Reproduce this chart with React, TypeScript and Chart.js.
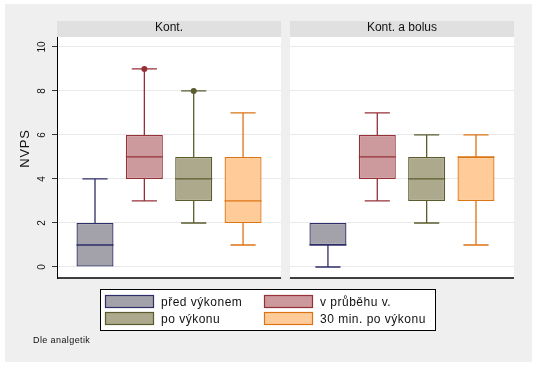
import React, { useEffect, useRef } from "react";
import { Chart, registerables } from "chart.js";

Chart.register(...registerables);

// ---------- data ----------
const PANELS = ["Kont.", "Kont. a bolus"];
const SERIES = ["před výkonem", "v průběhu v.", "po výkonu", "30 min. po výkonu"];

// Kont. : lower whisker, Q1, median, Q3, upper whisker, outside values
const KONT_LO = [0, 3, 2, 1];
const KONT_Q1 = [0, 4, 3, 2];
const KONT_MED = [1, 5, 4, 3];
const KONT_Q3 = [2, 6, 5, 5];
const KONT_HI = [4, 9, 8, 7];
const KONT_OUT = [[], [9], [8], []];

// Kont. a bolus
const BOLUS_LO = [0, 3, 2, 1];
const BOLUS_Q1 = [1, 4, 3, 3];
const BOLUS_MED = [1, 5, 4, 5];
const BOLUS_Q3 = [2, 6, 5, 5];
const BOLUS_HI = [2, 7, 6, 6];
const BOLUS_OUT = [[], [], [], []];

const Y_TICKS = [0, 2, 4, 6, 8, 10];
const Y_TITLE = "NVPS";
const NOTE = "Dle analgetik";

// ---------- styles ----------
const FILLS = ["#a3a2aa", "#cc9a9c", "#aca98d", "#ffcc99"];
const BORDERS = ["#2e2e68", "#963038", "#5a5c2e", "#dc7414"];
const BG = "#efefef";
const HEADER_BG = "#e0e0e0";
const GRID = "#e9e9e9";
const FONT = '"Liberation Sans", Arial, sans-serif';

// x layout in value units
const X_MIN = -0.77;
const PANEL_W = 4.54;
const GAP = 0.18;
const SHIFT = PANEL_W + GAP;
const X_MAX = X_MIN + SHIFT + PANEL_W;
const BOX_FRAC = 0.75;
const CAP_W = 0.51;

const PANEL_DATA = [
  { lo: KONT_LO, q1: KONT_Q1, med: KONT_MED, q3: KONT_Q3, hi: KONT_HI, out: KONT_OUT },
  { lo: BOLUS_LO, q1: BOLUS_Q1, med: BOLUS_MED, q3: BOLUS_Q3, hi: BOLUS_HI, out: BOLUS_OUT },
];

const HEADER_H = 16;

const boxPlugin = {
  id: "stataBox",
  beforeDraw(chart: any) {
    const { ctx, chartArea } = chart;
    const x = chart.scales.x;
    ctx.save();
    ctx.fillStyle = "#ffffff";
    ctx.fillRect(0, 0, chart.width, chart.height);
    ctx.fillStyle = BG;
    ctx.fillRect(5, 4, 527, 358);
    PANELS.forEach((title, p) => {
      const l = x.getPixelForValue(X_MIN + p * SHIFT);
      const r = x.getPixelForValue(X_MIN + p * SHIFT + PANEL_W);
      ctx.fillStyle = "#ffffff";
      ctx.fillRect(l, chartArea.top, r - l, chartArea.bottom - chartArea.top);
      ctx.fillStyle = HEADER_BG;
      ctx.fillRect(l, chartArea.top - HEADER_H, r - l, HEADER_H);
      ctx.fillStyle = "#111";
      ctx.font = "12px " + FONT;
      ctx.textAlign = "center";
      ctx.textBaseline = "alphabetic";
      ctx.fillText(title, (l + r) / 2, chartArea.top - 6);
    });
    ctx.restore();
  },
  beforeDatasetsDraw(chart: any) {
    const { ctx, chartArea } = chart;
    const x = chart.scales.x;
    ctx.save();
    const gl = x.getPixelForValue(X_MIN + PANEL_W);
    const gr = x.getPixelForValue(X_MIN + SHIFT);
    ctx.fillStyle = BG;
    ctx.fillRect(gl, chartArea.top - HEADER_H, gr - gl, chartArea.bottom - chartArea.top + HEADER_H + 4);
    ctx.strokeStyle = "#000";
    ctx.lineWidth = 1.5;
    PANELS.forEach((_, p) => {
      const l = x.getPixelForValue(X_MIN + p * SHIFT);
      const r = x.getPixelForValue(X_MIN + p * SHIFT + PANEL_W);
      ctx.beginPath();
      ctx.moveTo(l, chartArea.bottom);
      ctx.lineTo(r, chartArea.bottom);
      ctx.stroke();
    });
    ctx.restore();
  },
  afterDatasetsDraw(chart: any) {
    const { ctx } = chart;
    const x = chart.scales.x;
    const y = chart.scales.y;
    ctx.save();
    ctx.lineWidth = 1.3;
    PANEL_DATA.forEach((d, p) => {
      SERIES.forEach((_, s) => {
        const cx = p * SHIFT + s;
        const px = x.getPixelForValue(cx);
        const bl = x.getPixelForValue(cx - BOX_FRAC / 2);
        const br = x.getPixelForValue(cx + BOX_FRAC / 2);
        const cl = x.getPixelForValue(cx - CAP_W / 2);
        const cr = x.getPixelForValue(cx + CAP_W / 2);
        ctx.strokeStyle = BORDERS[s];
        ctx.fillStyle = BORDERS[s];
        // median
        ctx.beginPath();
        ctx.moveTo(bl, y.getPixelForValue(d.med[s]));
        ctx.lineTo(br, y.getPixelForValue(d.med[s]));
        ctx.stroke();
        // upper whisker
        if (d.hi[s] > d.q3[s]) {
          const yh = y.getPixelForValue(d.hi[s]);
          ctx.beginPath();
          ctx.moveTo(px, y.getPixelForValue(d.q3[s]));
          ctx.lineTo(px, yh);
          ctx.moveTo(cl, yh);
          ctx.lineTo(cr, yh);
          ctx.stroke();
        }
        if (d.lo[s] < d.q1[s]) {
          const yl = y.getPixelForValue(d.lo[s]);
          ctx.beginPath();
          ctx.moveTo(px, y.getPixelForValue(d.q1[s]));
          ctx.lineTo(px, yl);
          ctx.moveTo(cl, yl);
          ctx.lineTo(cr, yl);
          ctx.stroke();
        }
        (d.out[s] as number[]).forEach((v) => {
          ctx.beginPath();
          ctx.arc(px, y.getPixelForValue(v), 3, 0, Math.PI * 2);
          ctx.fill();
        });
      });
    });
    ctx.restore();
  },
  afterDraw(chart: any) {
    const { ctx, chartArea } = chart;
    const y = chart.scales.y;
    ctx.save();
    // y tick labels (rotated)
    ctx.fillStyle = "#111";
    ctx.font = "10px " + FONT;
    ctx.textAlign = "center";
    ctx.textBaseline = "alphabetic";
    y.ticks.forEach((t: any) => {
      const py = y.getPixelForValue(t.value);
      ctx.save();
      ctx.translate(chartArea.left - 12, py);
      ctx.rotate(-Math.PI / 2);
      ctx.fillText(String(t.value), 0, 0);
      ctx.restore();
    });
    // y title
    ctx.save();
    ctx.font = "13px " + FONT;
    (ctx as any).letterSpacing = "0.8px";
    ctx.translate(chartArea.left - 28, (chartArea.top - HEADER_H + chartArea.bottom) / 2 - 1);
    ctx.rotate(-Math.PI / 2);
    ctx.fillText(Y_TITLE, 0, 0);
    ctx.restore();

    // legend
    const LX = 100, LY = 289, LW = 335, LH = 41;
    ctx.fillStyle = "#fff";
    ctx.fillRect(LX, LY, LW, LH);
    ctx.strokeStyle = "#000";
    ctx.lineWidth = 1;
    ctx.strokeRect(LX + 0.5, LY + 0.5, LW, LH);
    const colX = [105, 264];
    const rowY = [295, 312];
    ctx.font = "12px " + FONT;
    (ctx as any).letterSpacing = "0.5px";
    ctx.textAlign = "left";
    SERIES.forEach((name, i) => {
      const c = i % 2;
      const r = Math.floor(i / 2);
      ctx.fillStyle = FILLS[i];
      ctx.fillRect(colX[c], rowY[r], 48, 12);
      ctx.strokeStyle = BORDERS[i];
      ctx.lineWidth = 1.2;
      ctx.strokeRect(colX[c] + 0.5, rowY[r] + 0.5, 48, 12);
      ctx.fillStyle = "#111";
      ctx.fillText(name, colX[c] + 56, rowY[r] + 11);
    });
    // note
    ctx.font = "9px " + FONT;
    (ctx as any).letterSpacing = "0.4px";
    ctx.fillText(NOTE, 33, 343);
    (ctx as any).letterSpacing = "0px";
    ctx.restore();
  },
};

export default function App() {
  const ref = useRef<HTMLCanvasElement>(null);
  useEffect(() => {
    const canvas = ref.current!;
    const datasets = SERIES.map((name, s) => ({
      label: name,
      data: PANEL_DATA.map((d, p) => ({ x: p * SHIFT + s, y: [d.q1[s], d.q3[s]] })),
      backgroundColor: FILLS[s],
      borderColor: BORDERS[s],
      borderWidth: 1.3,
      borderSkipped: false,
      grouped: false,
      barPercentage: BOX_FRAC,
      categoryPercentage: 1,
    }));
    const centers: number[] = [];
    PANEL_DATA.forEach((_, p) => SERIES.forEach((__, s) => centers.push(p * SHIFT + s)));
    const chart = new Chart(canvas, {
      type: "bar",
      data: { datasets: datasets as any },
      plugins: [boxPlugin],
      options: {
        animation: false,
        responsive: false,
        devicePixelRatio: 1,
        layout: { padding: { left: 5, right: 24, top: 37, bottom: 89 } },
        plugins: { legend: { display: false }, tooltip: { enabled: false }, title: { display: false } },
        scales: {
          x: {
            type: "linear",
            offset: false,
            min: X_MIN,
            max: X_MAX,
            display: false,
            afterBuildTicks: (s: any) => {
              s.ticks = centers.map((v) => ({ value: v }));
            },
          },
          y: {
            type: "linear",
            min: -0.5,
            max: 10.45,
            afterBuildTicks: (s: any) => {
              s.ticks = Y_TICKS.map((v) => ({ value: v }));
            },
            afterFit: (s: any) => {
              s.width = 52;
            },
            ticks: { display: false },
            grid: { color: GRID, lineWidth: 1, tickLength: 5, tickColor: "#333", drawTicks: true },
            border: { display: true, color: "#000", width: 1 },
          },
        },
      } as any,
    });
    return () => chart.destroy();
  }, []);
  return (
    <div style={{ position: "absolute", left: 0, top: 0, width: 538, height: 367 }}>
      <canvas ref={ref} width={538} height={367} style={{ display: "block", width: 538, height: 367 }} />
    </div>
  );
}
